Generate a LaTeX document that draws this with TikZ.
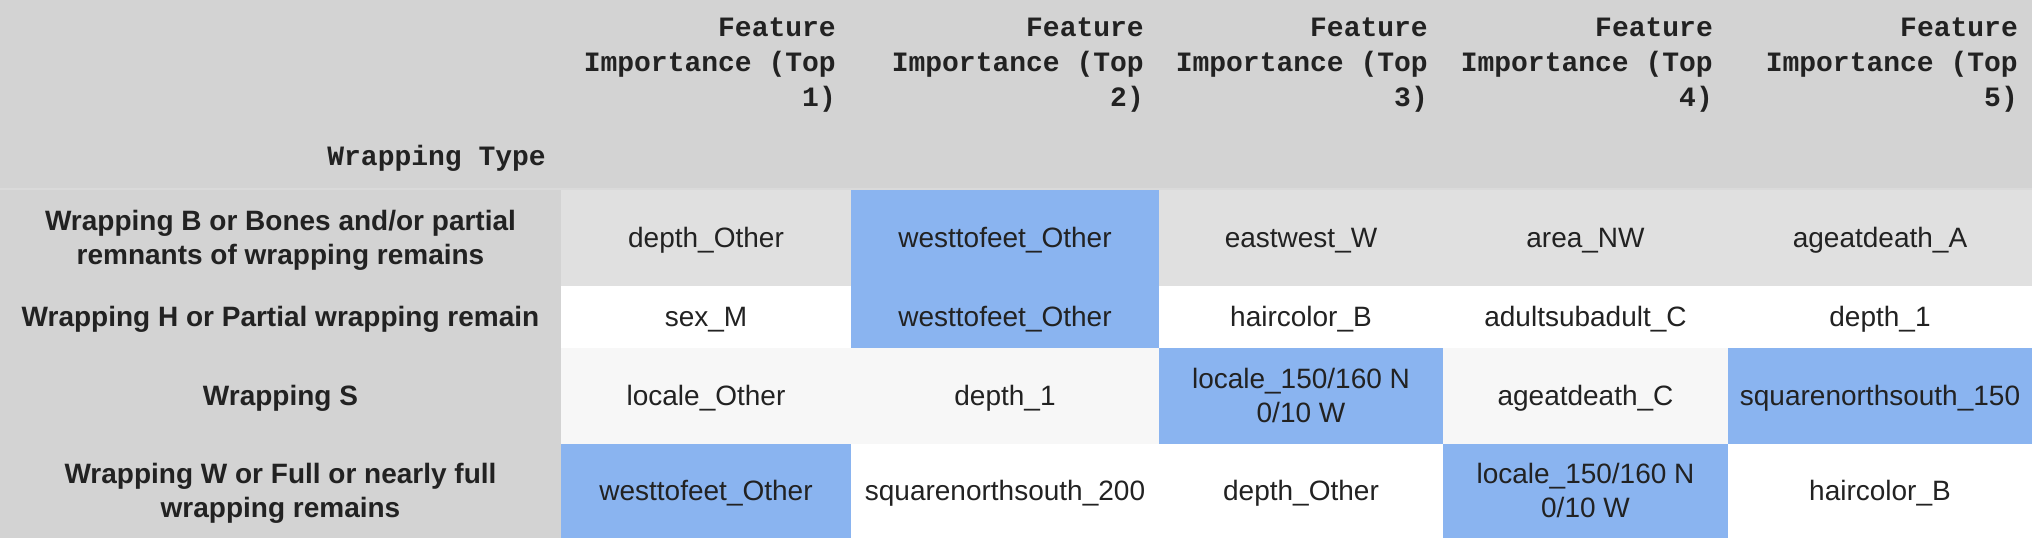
\documentclass[tikz,border=0pt]{standalone}
\usepackage{fontspec}
\setmainfont{Liberation Sans}
\newfontfamily\hdrfont{Liberation Mono}
\definecolor{hdrbg}{HTML}{D3D3D3}
\definecolor{stripc}{HTML}{DADADA}
\definecolor{rowA}{HTML}{E0E0E0}
\definecolor{rowC}{HTML}{F7F7F7}
\definecolor{hl}{HTML}{8AB4F0}
\definecolor{txt}{HTML}{222222}
\begin{document}
\begin{tikzpicture}[x=1pt,y=-1pt,
  hdr/.style={font=\hdrfont\bfseries\fontsize{28}{34}\selectfont, anchor=base east, inner sep=0pt, text=txt},
  idx/.style={font=\bfseries\fontsize{28}{34}\selectfont, anchor=base, inner sep=0pt, text=txt},
  val/.style={font=\fontsize{28}{34}\selectfont, anchor=base, inner sep=0pt, text=txt}]
\useasboundingbox (0,0) rectangle (2032,538);
% backgrounds
\fill[hdrbg] (0,0) rectangle (2032,538);
\fill[stripc] (0,188) rectangle (2032,190);
\fill[rowA] (561,190) rectangle (2032,286);
\fill[white] (561,286) rectangle (2032,348);
\fill[rowC] (561,348) rectangle (2032,444);
\fill[white] (561,444) rectangle (2032,538);
% highlighted cells
\fill[hl] (851,190) rectangle (1159,348);
\fill[hl] (1159,348) rectangle (1443,444);
\fill[hl] (1728,348) rectangle (2032,444);
\fill[hl] (561,444) rectangle (851,538);
\fill[hl] (1443,444) rectangle (1728,538);
% header
\foreach \r/\n in {836/1,1144/2,1428/3,1713/4,2018/5} {
  \node[hdr] (h\n a) at (\r,36) {Feature};
  \node[hdr] (h\n b) at (\r,71) {Importance (Top};
  \node[hdr] (h\n c) at (\r,106) {\n)};
}
\node[hdr] (hidx) at (546,165.5) {Wrapping Type};
% row labels
\node[idx] (r1a) at (280.5,230.5) {Wrapping B or Bones and/or partial};
\node[idx] (r1b) at (280.5,264) {remnants of wrapping remains};
\node[idx] (r2) at (280.5,326.5) {Wrapping H or Partial wrapping remain};
\node[idx] (r3) at (280.5,405.5) {Wrapping S};
\node[idx] (r4a) at (280.5,483.75) {Wrapping W or Full or nearly full};
\node[idx] (r4b) at (280.5,517.25) {wrapping remains};
% row 1
\node[val] (c11) at (706,247.5) {depth\_Other};
\node[val] (c12) at (1005,247.5) {westtofeet\_Other};
\node[val] (c13) at (1301,247.5) {eastwest\_W};
\node[val] (c14) at (1585.5,247.5) {area\_NW};
\node[val] (c15) at (1880,247.5) {ageatdeath\_A};
% row 2
\node[val] (c21) at (706,326.5) {sex\_M};
\node[val] (c22) at (1005,326.5) {westtofeet\_Other};
\node[val] (c23) at (1301,326.5) {haircolor\_B};
\node[val] (c24) at (1585.5,326.5) {adultsubadult\_C};
\node[val] (c25) at (1880,326.5) {depth\_1};
% row 3
\node[val] (c31) at (706,405.5) {locale\_Other};
\node[val] (c32) at (1005,405.5) {depth\_1};
\node[val] (c33a) at (1301,388.75) {locale\_150/160 N};
\node[val] (c33b) at (1301,422.25) {0/10 W};
\node[val] (c34) at (1585.5,405.5) {ageatdeath\_C};
\node[val] (c35) at (1880,405.5) {squarenorthsouth\_150};
% row 4
\node[val] (c41) at (706,500.5) {westtofeet\_Other};
\node[val] (c42) at (1005,500.5) {squarenorthsouth\_200};
\node[val] (c43) at (1301,500.5) {depth\_Other};
\node[val] (c44a) at (1585.5,483.75) {locale\_150/160 N};
\node[val] (c44b) at (1585.5,517.25) {0/10 W};
\node[val] (c45) at (1880,500.5) {haircolor\_B};
\end{tikzpicture}
\end{document}
